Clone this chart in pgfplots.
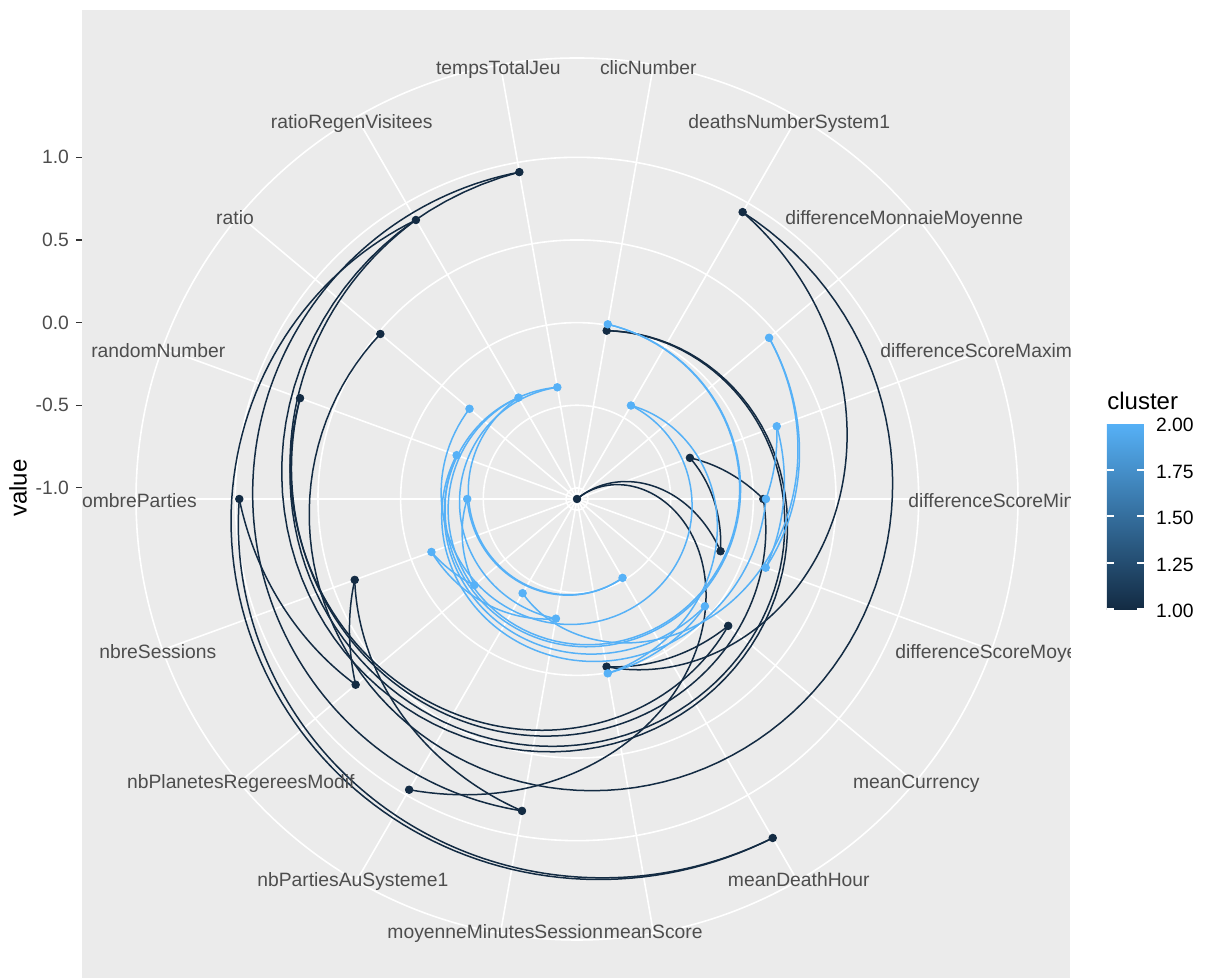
\documentclass[border=0pt]{standalone}
\usepackage{pgfplots}
\pgfplotsset{compat=1.18}
\usepackage{pgfplotstable}
\usepackage{fontspec}
\setmainfont{Liberation Sans}

\definecolor{panelbg}{HTML}{EBEBEB}
\definecolor{axistext}{HTML}{4D4D4D}
\definecolor{tickcol}{HTML}{333333}
\definecolor{clusA}{HTML}{132B43}
\definecolor{clusB}{HTML}{56B1F7}

\newcommand\lbl{\fontsize{9.65}{11.5}\selectfont}
\newcommand\ttl{\fontsize{12}{14}\selectfont}

% Cluster profiles, one row per variable in the column order of the data set.
% pos = place of the variable on the angular axis (alphabetical order, 1..18)
\pgfplotstableread{
variable pos v
ratio 16 0.486
deathsNumberSystem1 2 0.937
meanScore 9 -0.037
meanCurrency 7 0.127
ratioRegenVisitees 17 0.882
meanDeathHour 8 1.301
nombreParties 14 0.976
nbPlanetesRegereesModif 12 0.681
nbreSessions 13 0.364
moyenneMinutesSession 10 0.849
tempsTotalJeu 18 0.941
clicNumber 1 -0.033
randomNumber 15 0.716
differenceScoreMin 5 0.060
differenceScoreMaxim 4 -0.340
differenceScoreMoyenne 6 -0.143
differenceMonnaieMoyenne 3 -1.067
nbPartiesAuSysteme1 11 0.964
}\clusterone

\pgfplotstableread{
variable pos v
ratio 16 -0.218
deathsNumberSystem1 2 -0.414
meanScore 9 0.004
meanCurrency 7 -0.057
ratioRegenVisitees 17 -0.359
meanDeathHour 8 -0.516
nombreParties 14 -0.403
nbPlanetesRegereesModif 12 -0.256
nbreSessions 13 -0.130
moyenneMinutesSession 10 -0.332
tempsTotalJeu 18 -0.381
clicNumber 1 0.006
randomNumber 15 -0.292
differenceScoreMin 5 0.076
differenceScoreMaxim 4 0.219
differenceScoreMoyenne 6 0.148
differenceMonnaieMoyenne 3 0.450
nbPartiesAuSysteme1 11 -0.409
}\clustertwo

% radius: (value + 1.067) * 165.3 ; angle: (pos - 0.5) * 20 degrees clockwise from north
% a path between consecutive rows is straight in (pos, value), hence a spiral arc
\newcommand\polarpath[2]{%
  \pgfplotsinvokeforeach{0,...,16}{%
    \pgfplotstablegetelem{##1}{pos}\of{#1}\edef\pa{\pgfplotsretval}%
    \pgfplotstablegetelem{##1}{v}\of{#1}\edef\va{\pgfplotsretval}%
    \pgfmathtruncatemacro\nxt{##1+1}%
    \pgfplotstablegetelem{\nxt}{pos}\of{#1}\edef\pb{\pgfplotsretval}%
    \pgfplotstablegetelem{\nxt}{v}\of{#1}\edef\vb{\pgfplotsretval}%
    \edef\polarseg{\noexpand\addplot[#2, line width=0.75pt, no marks, domain=0:1, samples=100]
      ({((\va)+((\vb)-(\va))*x+1.067)*165.3*sin(((\pa)-0.5+((\pb)-(\pa))*x)*20)},
       {((\va)+((\vb)-(\va))*x+1.067)*165.3*cos(((\pa)-0.5+((\pb)-(\pa))*x)*20)});}%
    \polarseg
  }%
}

\begin{document}
\begin{tikzpicture}
\begin{axis}[
  name=main,
  scale only axis,
  width=494pt, height=484pt,
  xmin=-495, xmax=493, ymin=-479, ymax=489,
  axis background/.style={fill=panelbg},
  axis line style={draw=none},
  xtick=\empty,
  ytick={11.08,93.73,176.38,259.03,341.68},
  yticklabels={-1.0,-0.5,0.0,0.5,1.0},
  ytick pos=left,
  tick align=outside,
  major tick length=3pt,
  tick style={tickcol, line width=0.55pt},
  yticklabel style={font=\lbl, text=axistext},
  /pgf/number format/assume math mode=true,
  ylabel={value},
  ylabel style={at={(axis description cs:-0.0648,0.506)}, anchor=center, font=\ttl, text=black},
  clip=true,
  colormap={clus}{rgb255=(19,43,67) rgb255=(86,177,247)},
  point meta min=1, point meta max=2,
  colorbar,
  colorbar/width=18.5pt,
  colorbar style={
    at={(parent axis.north east)}, anchor=north west,
    xshift=9.96pt, yshift=-206.65pt,
    width=18.5pt, height=93pt, scale only axis,
    axis line style={draw=none},
    ylabel={}, xlabel={},
    ytick={1,1.25,1.5,1.75,2},
    yticklabels={1.00,1.25,1.50,1.75,2.00},
    ytick pos=both, yticklabel pos=right,
    tick align=inside, major tick length=3.5pt,
    every tick/.style={white, line width=0.8pt},
    major tick style={white, line width=0.8pt},
    tick style={white, line width=0.8pt},
    yticklabel style={font=\lbl, text=black, xshift=2.5pt, yshift=-1pt},
    title={cluster},
    title style={at={(0,1)}, anchor=base west, yshift=1pt, font=\ttl, inner sep=0pt},
  },
]
% radial grid: value breaks -1.0 ... 1.0 and the outer ring
\pgfplotsinvokeforeach{11.08,93.73,176.38,259.03,341.68,441}{
  \draw[white, line width=0.8pt] (axis cs:0,0) circle[radius=#1*0.5pt];
}
% one spoke per variable
\pgfplotsinvokeforeach{10,30,...,350}{
  \draw[white, line width=0.8pt] (axis cs:0,0) -- (axis cs:{441*sin(#1)},{441*cos(#1)});
}

\polarpath{\clusterone}{clusA}
\polarpath{\clustertwo}{clusB}

\addplot[only marks, mark=*, mark size=1.9pt, color=clusA]
  table[x expr={(\thisrow{v}+1.067)*165.3*sin((\thisrow{pos}-0.5)*20)},
        y expr={(\thisrow{v}+1.067)*165.3*cos((\thisrow{pos}-0.5)*20)}] {\clusterone};
\addplot[only marks, mark=*, mark size=1.9pt, color=clusB]
  table[x expr={(\thisrow{v}+1.067)*165.3*sin((\thisrow{pos}-0.5)*20)},
        y expr={(\thisrow{v}+1.067)*165.3*cos((\thisrow{pos}-0.5)*20)}] {\clustertwo};

% angular axis labels
\begin{scope}[every node/.style={font=\lbl, text=axistext, inner sep=0pt}]
\node[anchor=base] at (axis cs:71.3,424) {clicNumber};
\node[anchor=base] at (axis cs:212.2,370.6) {deathsNumberSystem1};
\node[anchor=base] at (axis cs:327.2,274) {differenceMonnaieMoyenne};
\node[anchor=base west] at (axis cs:303,141.8) {differenceScoreMaxim};
\node[anchor=base west] at (axis cs:331,-9) {differenceScoreMin};
\node[anchor=base west] at (axis cs:318,-159.4) {differenceScoreMoyenne};
\node[anchor=base] at (axis cs:339.3,-289.4) {meanCurrency};
\node[anchor=base] at (axis cs:221.8,-388) {meanDeathHour};
\node[anchor=base] at (axis cs:76.3,-439.4) {meanScore};
\node[anchor=base] at (axis cs:-81.7,-439.4) {moyenneMinutesSession};
\node[anchor=base] at (axis cs:-224.2,-388) {nbPartiesAuSysteme1};
\node[anchor=base east] at (axis cs:-222,-289.4) {nbPlanetesRegereesModif};
\node[anchor=base] at (axis cs:-419.2,-159.4) {nbreSessions};
\node[anchor=base east] at (axis cs:-379.7,-9) {nombreParties};
\node[anchor=base] at (axis cs:-418.7,141.8) {randomNumber};
\node[anchor=base] at (axis cs:-342,274) {ratio};
\node[anchor=base] at (axis cs:-225.3,370.6) {ratioRegenVisitees};
\node[anchor=base] at (axis cs:-78.7,424) {tempsTotalJeu};
\end{scope}
\end{axis}
\pgfresetboundingbox
\path[use as bounding box] ([xshift=-41pt]main.south west) rectangle ([xshift=562pt,yshift=489pt]main.south west);
\end{tikzpicture}
\end{document}
